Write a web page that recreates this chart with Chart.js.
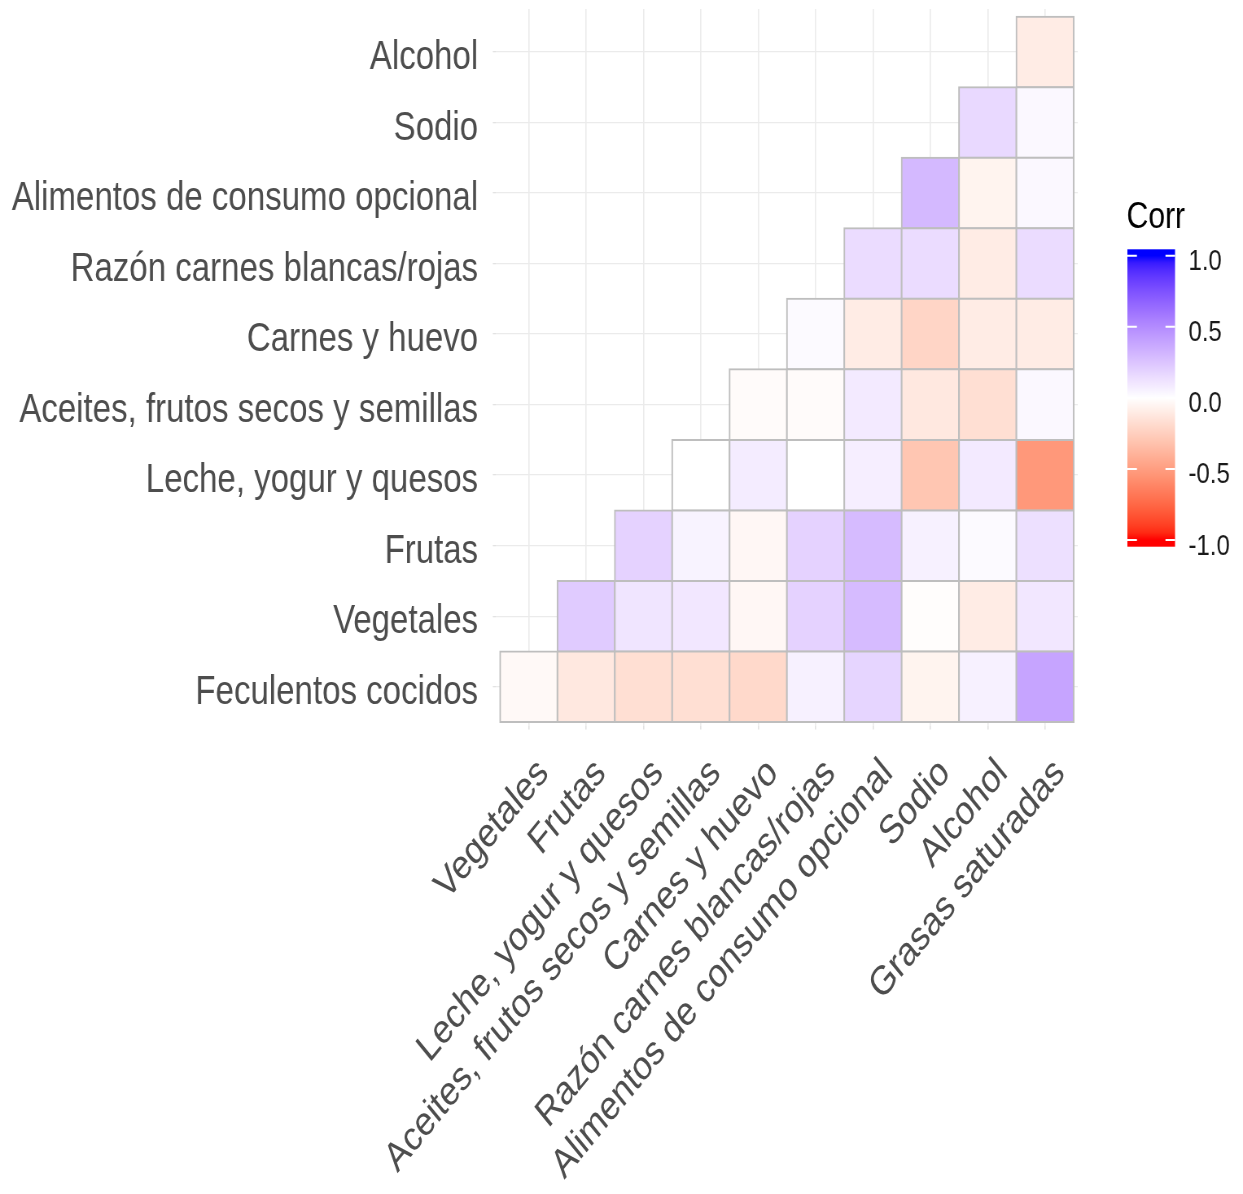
<!DOCTYPE html>
<html>
<head>
<meta charset="utf-8">
<script src="https://cdn.jsdelivr.net/npm/chart.js@4.4.1/dist/chart.umd.min.js"></script>
<style>
  html, body { margin: 0; padding: 0; background: #ffffff; overflow: hidden; }
  #wrap { position: relative; width: 1243px; height: 1194px; overflow: hidden; background: #ffffff; }
  /* the plot is laid out on a wider canvas and narrowed horizontally */
  #corr { position: absolute; left: 0; top: 0; transform-origin: 0 0; transform: scaleX(0.814); }
</style>
</head>
<body>
<div id="wrap"><canvas id="corr" width="1527" height="1194"></canvas></div>
<script>
// Columns (x axis, left to right)
const colLabels = [
  'Vegetales', 'Frutas', 'Leche, yogur y quesos', 'Aceites, frutos secos y semillas',
  'Carnes y huevo', 'Razón carnes blancas/rojas', 'Alimentos de consumo opcional',
  'Sodio', 'Alcohol', 'Grasas saturadas'
];
// Rows (y axis, bottom to top)
const rowLabels = [
  'Feculentos cocidos', 'Vegetales', 'Frutas', 'Leche, yogur y quesos',
  'Aceites, frutos secos y semillas', 'Carnes y huevo', 'Razón carnes blancas/rojas',
  'Alimentos de consumo opcional', 'Sodio', 'Alcohol'
];

// Lower-triangle correlations: row r holds the columns r .. 9
const corrFeculentos = [-0.03, -0.12, -0.17, -0.17, -0.20, 0.06, 0.18, -0.06, 0.06, 0.39];
const corrVegetales  = [0.22, 0.11, 0.10, -0.04, 0.19, 0.29, -0.01, -0.10, 0.10];
const corrFrutas     = [0.19, 0.05, -0.04, 0.19, 0.29, 0.06, 0.02, 0.13];
const corrLeche      = [0.00, 0.08, 0.00, 0.07, -0.30, 0.09, -0.53];
const corrAceites    = [-0.02, -0.02, 0.09, -0.12, -0.17, 0.03];
const corrCarnes     = [0.02, -0.10, -0.22, -0.10, -0.10];
const corrRazon      = [0.15, 0.15, -0.10, 0.15];
const corrAlimentos  = [0.30, -0.06, 0.03];
const corrSodio      = [0.16, 0.03];
const corrAlcohol    = [-0.10];

const legendTicks = [-1, -0.5, 0, 0.5, 1];

const rowValues = [corrFeculentos, corrVegetales, corrFrutas, corrLeche, corrAceites,
                   corrCarnes, corrRazon, corrAlimentos, corrSodio, corrAlcohol];

// ---- diverging red / white / blue scale interpolated in CIE Lab ----
const WHITE_REF = [0.95047, 1.0, 1.08883];
function hexToRgb(h) {
  const n = parseInt(h.slice(1), 16);
  return [(n >> 16) & 255, (n >> 8) & 255, n & 255];
}
function toLinear(c) { c /= 255; return c <= 0.04045 ? c / 12.92 : Math.pow((c + 0.055) / 1.055, 2.4); }
function fromLinear(c) {
  const v = c <= 0.0031308 ? 12.92 * c : 1.055 * Math.pow(c, 1 / 2.4) - 0.055;
  return Math.round(Math.min(1, Math.max(0, v)) * 255);
}
function rgbToLab(rgb) {
  const [r, g, b] = rgb.map(toLinear);
  const X = 0.4124564 * r + 0.3575761 * g + 0.1804375 * b;
  const Y = 0.2126729 * r + 0.7151522 * g + 0.0721750 * b;
  const Z = 0.0193339 * r + 0.1191920 * g + 0.9503041 * b;
  const f = t => t > 0.008856 ? Math.cbrt(t) : 7.787 * t + 16 / 116;
  const fx = f(X / WHITE_REF[0]), fy = f(Y / WHITE_REF[1]), fz = f(Z / WHITE_REF[2]);
  return [116 * fy - 16, 500 * (fx - fy), 200 * (fy - fz)];
}
function labToRgb([L, a, bb]) {
  const fy = (L + 16) / 116, fx = fy + a / 500, fz = fy - bb / 200;
  const finv = t => t > 0.206893 ? t * t * t : (t - 16 / 116) / 7.787;
  const X = finv(fx) * WHITE_REF[0], Y = finv(fy) * WHITE_REF[1], Z = finv(fz) * WHITE_REF[2];
  const r =  3.2404542 * X - 1.5371385 * Y - 0.4985314 * Z;
  const g = -0.9692660 * X + 1.8760108 * Y + 0.0415560 * Z;
  const b =  0.0556434 * X - 0.2040259 * Y + 1.0572252 * Z;
  return [fromLinear(r), fromLinear(g), fromLinear(b)];
}
const labLow = rgbToLab(hexToRgb('#FF0000'));
const labMid = rgbToLab(hexToRgb('#FFFFFF'));
const labHigh = rgbToLab(hexToRgb('#0000FF'));
function corrColor(v) {
  const t = Math.min(1, Math.abs(v));
  const end = v < 0 ? labLow : labHigh;
  const lab = labMid.map((m, k) => m + (end[k] - m) * t);
  const [r, g, b] = labToRgb(lab);
  return `rgb(${r},${g},${b})`;
}

// ---- one floating-bar dataset per row ----
const datasets = rowValues.map((vals, r) => ({
  label: rowLabels[r],
  data: vals.map((v, k) => ({ x: r + k, y: [r - 0.5, r + 0.5], corr: v })),
  backgroundColor: vals.map(corrColor),
  borderColor: '#BEBEBE',
  borderWidth: 2,
  borderSkipped: false,
  inflateAmount: 1,
  grouped: false,
  barPercentage: 1,
  categoryPercentage: 1
}));

// ---- colour bar legend ----
const colorbarPlugin = {
  id: 'corrColorbar',
  afterDraw(chart) {
    const ctx = chart.ctx;
    const bar = { left: 1385, right: 1443.5, top: 249.3, bottom: 546.7 };
    const yHigh = 255.7, yLow = 540;            // pixel rows of +1 and -1
    const mid = (yHigh + yLow) / 2, half = (yLow - yHigh) / 2;
    const yOf = v => mid - v * half;

    ctx.save();
    const grad = ctx.createLinearGradient(0, yHigh, 0, yLow);
    const steps = 40;
    for (let s = 0; s <= steps; s++) {
      grad.addColorStop(s / steps, corrColor(1 - 2 * s / steps));
    }
    ctx.fillStyle = grad;
    ctx.fillRect(bar.left, bar.top, bar.right - bar.left, bar.bottom - bar.top);

    const tick = (bar.right - bar.left) / 5;
    ctx.strokeStyle = '#ffffff';
    ctx.lineWidth = 2;
    ctx.font = '29.5px "Liberation Sans", Arial, sans-serif';
    ctx.fillStyle = '#1a1a1a';
    ctx.textAlign = 'left';
    ctx.textBaseline = 'alphabetic';
    legendTicks.forEach(v => {
      const y = yOf(v);
      ctx.beginPath();
      ctx.moveTo(bar.left, y); ctx.lineTo(bar.left + tick, y);
      ctx.moveTo(bar.right - tick, y); ctx.lineTo(bar.right, y);
      ctx.stroke();
      ctx.fillText(v.toFixed(1), 1460, y + 14.5);
    });

    ctx.font = '37px "Liberation Sans", Arial, sans-serif';
    ctx.fillStyle = '#000000';
    ctx.fillText('Corr', 1384, 228);
    ctx.restore();
  }
};

const CANVAS_H = 1194;
const labelFont = { family: '"Liberation Sans", Arial, sans-serif', size: 40.6 };

new Chart(document.getElementById('corr'), {
  type: 'bar',
  data: { datasets },
  options: {
    responsive: false,
    animation: false,
    devicePixelRatio: 1,
    layout: { padding: { left: 0, top: 9, right: 203, bottom: 0 } },
    plugins: { legend: { display: false }, tooltip: { enabled: false } },
    scales: {
      x: {
        type: 'linear',
        min: -0.57,
        max: 9.57,
        offset: false,
        grid: { offset: false, color: '#EBEBEB', lineWidth: 1.6, tickLength: 4, tickColor: '#E2E2E2' },
        border: { display: false },
        afterBuildTicks: s => { s.ticks = colLabels.map((_, i) => ({ value: i })); },
        afterFit: s => { s.height = CANVAS_H - 725.5; s.paddingLeft = 0; s.paddingRight = 0; },
        ticks: {
          autoSkip: false,
          minRotation: 45,
          maxRotation: 45,
          labelOffset: 18,
          padding: 20,
          color: '#4D4D4D',
          font: labelFont,
          callback: v => colLabels[v] ?? ''
        }
      },
      y: {
        type: 'linear',
        min: -0.55,
        max: 9.61,
        offset: false,
        grid: { offset: false, color: '#EBEBEB', lineWidth: 1.3, tickLength: 4, tickColor: '#E2E2E2' },
        border: { display: false },
        afterBuildTicks: s => { s.ticks = rowLabels.map((_, i) => ({ value: i })); },
        afterFit: s => { s.width = 609.4; s.paddingTop = 0; s.paddingBottom = 0; },
        ticks: {
          autoSkip: false,
          padding: 18,
          labelOffset: 6,
          color: '#4D4D4D',
          font: labelFont,
          callback: v => rowLabels[v] ?? ''
        }
      }
    }
  },
  plugins: [colorbarPlugin]
});
</script>
</body>
</html>
